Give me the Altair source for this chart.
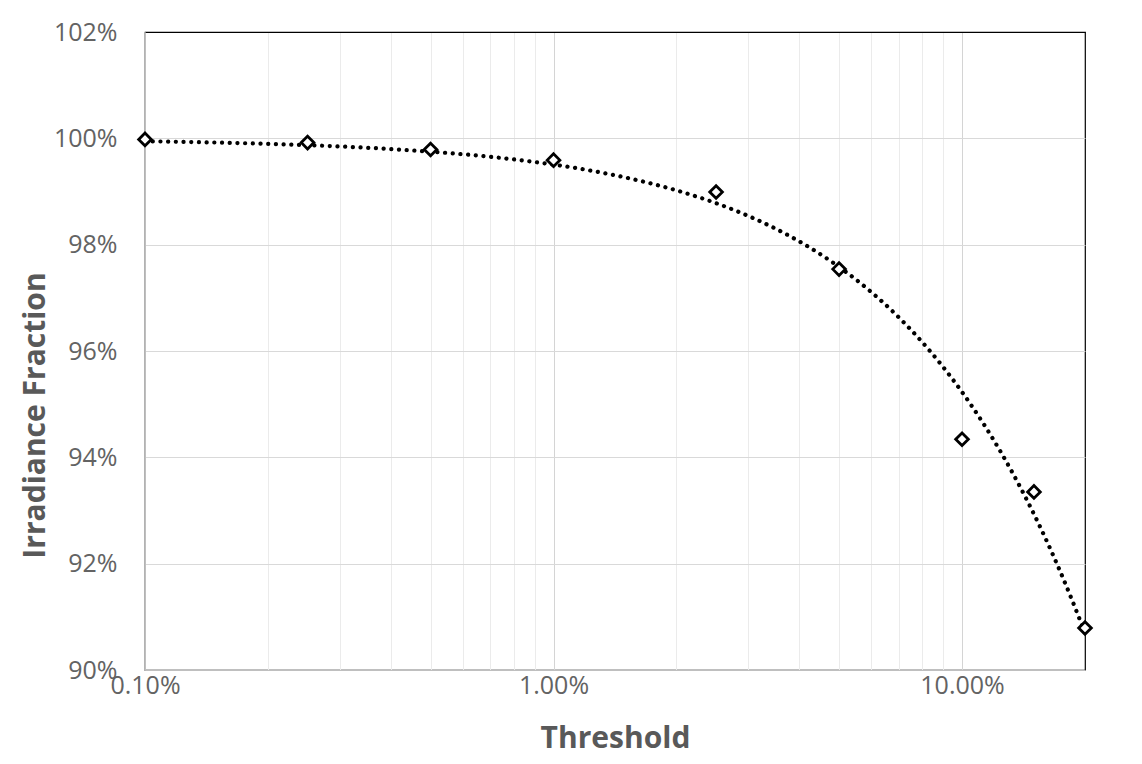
import altair as alt
import numpy as np
import pandas as pd

# Data
threshold = [0.001, 0.0025, 0.005, 0.01, 0.025, 0.05, 0.10, 0.15, 0.20]
irradiance = [0.9998, 0.9992, 0.9979, 0.9959, 0.9899, 0.9754, 0.9434, 0.9335, 0.9079]

y_ticks = [0.90, 0.92, 0.94, 0.96, 0.98, 1.00, 1.02]
x_grid = [m * 10.0 ** e for e in (-3, -2) for m in range(1, 10)] + [0.1]

pts = pd.DataFrame({"threshold": threshold, "irradiance": irradiance})

# Excel-style exponential trendline (y = a*e^(b*x)) fitted to the points
b, ln_a = np.polyfit(np.array(threshold), np.log(np.array(irradiance)), 1)
xs = np.geomspace(min(threshold), max(threshold), 300)
trend = pd.DataFrame({"threshold": xs, "irradiance": np.exp(ln_a + b * xs)})

LABEL_GRAY = "#636363"
TITLE_GRAY = "#595959"
FONT = "Open Sans"
DECADE = "abs(log(datum.value)/LN10 - round(log(datum.value)/LN10)) < 1e-6"

x_scale = alt.Scale(type="log", domain=[0.001, 0.2], nice=False)
y_scale = alt.Scale(domain=[0.90, 1.02], nice=False, zero=False)

x_axis = alt.Axis(
    values=x_grid,
    labelExpr=DECADE + " ? format(datum.value, '.2%') : ''",
    labelFlush=False,
    title="Threshold",
    ticks=False,
    domainColor="#bfbfbf",
    gridColor={"condition": {"test": DECADE, "value": "#d4d4d4"}, "value": "#ebebeb"},
    labelPadding=3,
    titleY=68,
    titleBaseline="middle",
)
y_axis = alt.Axis(
    values=y_ticks,
    format=".0%",
    labelFlush=False,
    title="Irradiance Fraction",
    ticks=False,
    domainColor="#bfbfbf",
    gridColor={"condition": {"test": "datum.value > 1.015", "value": "black"}, "value": "#d9d9d9"},
    labelPadding=28,
    titleX=-110,
    titleY=383,
    titleAngle=-90,
    titleAlign="center",
    titleBaseline="middle",
)

line = alt.Chart(trend).mark_line(
    color="black", strokeWidth=4.2, strokeDash=[0.1, 7.6], strokeCap="round"
).encode(
    x=alt.X("threshold:Q", scale=x_scale, axis=x_axis),
    y=alt.Y("irradiance:Q", scale=y_scale, axis=y_axis),
)

points = alt.Chart(pts).mark_point(
    shape="diamond", size=160, filled=True, fill="white", stroke="black", strokeWidth=2.8, opacity=1
).encode(
    x=alt.X("threshold:Q", scale=x_scale),
    y=alt.Y("irradiance:Q", scale=y_scale),
)

chart = alt.layer(line, points).properties(
    width=940,
    height=638,
    autosize=alt.AutoSizeParams(type="none"),
    padding={"left": 137, "top": 24, "right": 49, "bottom": 86},
    background="white",
).configure_view(
    stroke="black", strokeWidth=1.2
).configure_axis(
    labelFont=FONT,
    labelFontSize=25,
    labelColor=LABEL_GRAY,
    titleFont=FONT,
    titleFontSize=30,
    titleFontWeight="bold",
    titleColor=TITLE_GRAY,
    gridWidth=1,
)

chart.save("out.html", embed_options={"renderer": "svg", "actions": False})
